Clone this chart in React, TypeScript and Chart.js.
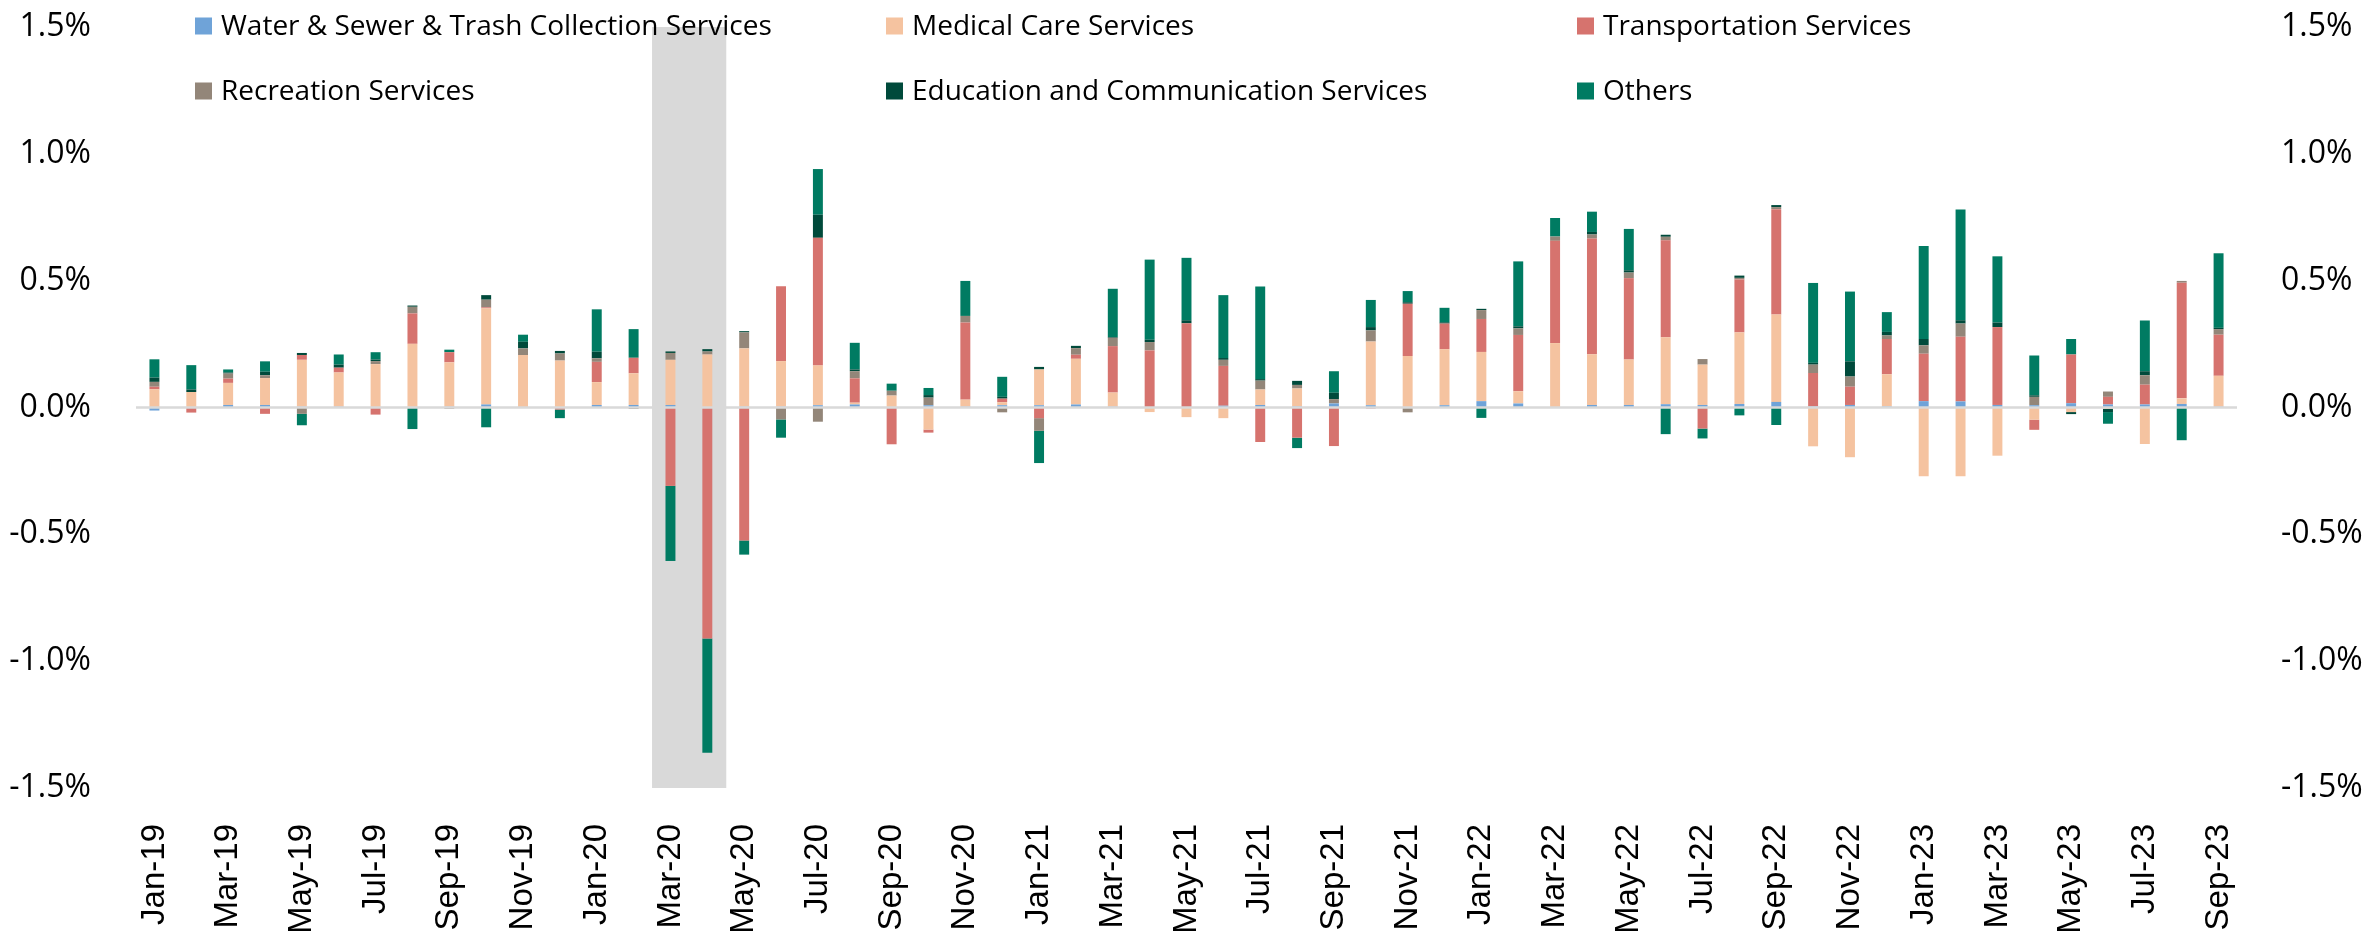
import React, { useEffect, useRef } from 'react';
import { Chart, registerables } from 'chart.js';

Chart.register(...registerables);

const months = [
  'Jan-19', 'Feb-19', 'Mar-19', 'Apr-19', 'May-19', 'Jun-19', 'Jul-19', 'Aug-19', 'Sep-19', 'Oct-19', 'Nov-19', 'Dec-19',
  'Jan-20', 'Feb-20', 'Mar-20', 'Apr-20', 'May-20', 'Jun-20', 'Jul-20', 'Aug-20', 'Sep-20', 'Oct-20', 'Nov-20', 'Dec-20',
  'Jan-21', 'Feb-21', 'Mar-21', 'Apr-21', 'May-21', 'Jun-21', 'Jul-21', 'Aug-21', 'Sep-21', 'Oct-21', 'Nov-21', 'Dec-21',
  'Jan-22', 'Feb-22', 'Mar-22', 'Apr-22', 'May-22', 'Jun-22', 'Jul-22', 'Aug-22', 'Sep-22', 'Oct-22', 'Nov-22', 'Dec-22',
  'Jan-23', 'Feb-23', 'Mar-23', 'Apr-23', 'May-23', 'Jun-23', 'Jul-23', 'Aug-23', 'Sep-23',
];

const recessionMonths = ['Mar-20', 'Apr-20'];

const water = [
  -0.012, 0.002, 0.010, 0.010, 0.003, 0.003, 0.002, 0.000, 0.003, 0.012, 0.000, 0.000,
  0.010, 0.010, 0.010, 0.000, 0.003, 0.003, 0.009, 0.012, 0.000, 0.009, 0.003, 0.009,
  0.009, 0.012, 0.003, 0.000, 0.000, 0.007, 0.010, 0.004, 0.016, 0.009, 0.000, 0.009,
  0.025, 0.016, 0.000, 0.010, 0.010, 0.013, 0.010, 0.014, 0.022, 0.004, 0.010, 0.004,
  0.025, 0.024, 0.010, 0.009, 0.017, 0.012, 0.012, 0.014, 0.003,
];

const medical = [
  0.072, 0.059, 0.087, 0.106, 0.185, 0.135, 0.169, 0.251, 0.175, 0.379, 0.207, 0.185,
  0.090, 0.125, 0.178, 0.209, 0.230, 0.180, 0.157, 0.007, 0.047, -0.087, 0.028, 0.012,
  0.141, 0.180, 0.056, -0.018, -0.038, -0.042, 0.061, 0.071, 0.000, 0.251, 0.203, 0.221,
  0.194, 0.048, 0.254, 0.200, 0.179, 0.264, 0.159, 0.282, 0.345, -0.153, -0.196, 0.127,
  -0.271, -0.271, -0.190, -0.048, -0.018, -0.005, -0.144, 0.022, 0.122,
];

const transportation = [
  0.010, -0.020, 0.017, -0.025, 0.019, 0.019, -0.028, 0.120, 0.040, 0.004, 0.000, -0.008,
  0.080, 0.061, -0.309, -0.911, -0.524, 0.295, 0.503, 0.096, -0.145, -0.012, 0.304, 0.014,
  -0.042, 0.016, 0.183, 0.225, 0.332, 0.157, -0.136, -0.119, -0.152, -0.004, 0.206, 0.101,
  0.130, 0.222, 0.403, 0.456, 0.321, 0.382, -0.083, 0.209, 0.415, 0.132, 0.072, 0.139,
  0.187, 0.255, 0.307, -0.040, 0.192, 0.030, 0.078, 0.456, 0.162,
];

const recreation = [
  0.019, 0.000, 0.020, 0.011, -0.025, 0.000, 0.012, 0.026, -0.005, 0.030, 0.026, 0.028,
  0.014, -0.006, 0.027, 0.012, 0.063, -0.047, -0.056, 0.028, 0.019, 0.030, 0.026, -0.019,
  -0.050, 0.026, 0.033, 0.033, 0.000, 0.024, 0.035, 0.014, 0.017, 0.044, -0.019, 0.000,
  0.035, 0.026, 0.017, 0.016, 0.022, 0.014, 0.022, 0.006, 0.008, 0.033, 0.040, 0.014,
  0.033, 0.052, 0.000, 0.033, 0.000, 0.021, 0.037, 0.007, 0.022,
];

const education = [
  0.017, 0.010, 0.004, 0.014, 0.008, 0.012, 0.006, 0.005, 0.000, 0.018, 0.026, 0.010,
  0.026, 0.000, 0.006, 0.009, 0.005, 0.000, 0.091, 0.007, 0.000, 0.010, 0.000, 0.007,
  0.010, 0.009, 0.003, 0.009, 0.012, 0.007, 0.006, 0.016, 0.025, 0.013, 0.006, 0.005,
  0.005, 0.008, 0.000, 0.010, 0.009, 0.008, 0.000, 0.009, 0.008, 0.007, 0.060, 0.014,
  0.025, 0.013, 0.018, 0.006, -0.008, -0.013, 0.016, 0.000, 0.005,
];

const others = [
  0.072, 0.096, 0.012, 0.041, -0.045, 0.040, 0.029, -0.085, 0.010, -0.078, 0.028, -0.034,
  0.167, 0.113, -0.296, -0.450, -0.056, -0.072, 0.180, 0.105, 0.028, 0.028, 0.138, 0.079,
  -0.127, 0.000, 0.190, 0.316, 0.246, 0.248, 0.365, -0.041, 0.085, 0.107, 0.044, 0.057,
  -0.041, 0.256, 0.073, 0.080, 0.163, -0.105, -0.039, -0.031, -0.069, 0.315, 0.275, 0.078,
  0.367, 0.437, 0.261, 0.157, 0.061, -0.046, 0.200, -0.129, 0.294,
];

const seriesNames = [
  'Water & Sewer & Trash Collection Services',
  'Medical Care Services',
  'Transportation Services',
  'Recreation Services',
  'Education and Communication Services',
  'Others',
];

const seriesColors = ['#6FA3D8', '#F5C3A0', '#D6736E', '#938679', '#004A3B', '#007B62'];

const yTicks = [-1.5, -1.0, -0.5, 0.0, 0.5, 1.0, 1.5];

const recessionPlugin = {
  id: 'recessionShade',
  beforeDatasetsDraw(chart: any) {
    const x = chart.scales.x;
    const { top, bottom } = chart.chartArea;
    const half = (x.getPixelForValue(1) - x.getPixelForValue(0)) / 2;
    const ctx = chart.ctx;
    ctx.save();
    ctx.fillStyle = '#D9D9D9';
    months.forEach((m, i) => {
      if (recessionMonths.includes(m)) {
        const c = x.getPixelForValue(i);
        ctx.fillRect(c - half, top, half * 2 + 0.5, bottom - top);
      }
    });
    ctx.restore();
  },
};

const zeroLinePlugin = {
  id: 'zeroLine',
  afterDatasetsDraw(chart: any) {
    const y = chart.scales.y.getPixelForValue(0);
    const { left, right } = chart.chartArea;
    const ctx = chart.ctx;
    ctx.save();
    ctx.strokeStyle = '#D9D9D9';
    ctx.lineWidth = 2.5;
    ctx.beginPath();
    ctx.moveTo(left, y);
    ctx.lineTo(right, y);
    ctx.stroke();
    ctx.restore();
  },
};

const legendCols = [195, 886, 1577];
const legendRows = [26, 91];

const legendPlugin = {
  id: 'gridLegend',
  afterDraw(chart: any) {
    const ctx = chart.ctx;
    ctx.save();
    ctx.font = "28px 'Open Sans'";
    ctx.textBaseline = 'middle';
    ctx.textAlign = 'left';
    seriesNames.forEach((name, i) => {
      const col = i % 3;
      const row = Math.floor(i / 3);
      const bx = legendCols[col];
      const by = legendRows[row];
      ctx.fillStyle = seriesColors[i];
      ctx.fillRect(bx, by - 8.5, 17, 17);
      ctx.fillStyle = '#000';
      ctx.fillText(name, bx + 26, by + 1);
    });
    ctx.restore();
  },
};

const noVerticalPadding = (s: any) => {
  s.paddingTop = 0;
  s.paddingBottom = 0;
};

export default function App() {
  const ref = useRef<HTMLCanvasElement>(null);

  useEffect(() => {
    document.body.style.margin = '0';
    const seriesData = [water, medical, transportation, recreation, education, others];
    const chart = new Chart(ref.current as HTMLCanvasElement, {
      type: 'bar',
      data: {
        labels: months,
        datasets: seriesNames.map((name, i) => ({
          label: name,
          data: seriesData[i],
          backgroundColor: seriesColors[i],
          borderWidth: 0,
          barPercentage: 0.27,
          categoryPercentage: 1,
        })),
      },
      options: {
        animation: false,
        responsive: true,
        maintainAspectRatio: false,
        devicePixelRatio: 1,
        layout: { padding: { top: 27, left: 0, right: 0, bottom: 0 } },
        plugins: {
          legend: { display: false },
          tooltip: { enabled: false },
        },
        scales: {
          x: {
            stacked: true,
            offset: true,
            grid: { display: false },
            border: { display: false },
            ticks: {
              autoSkip: false,
              minRotation: 90,
              maxRotation: 90,
              padding: 28,
              color: '#000',
              font: { family: "'Liberation Sans', Arial, sans-serif", size: 33 },
              callback: (_v: any, i: number) => (i % 2 === 0 ? months[i] : ''),
            },
            afterFit: (s: any) => {
              s.height = 143;
              s.paddingLeft = 0;
              s.paddingRight = 0;
            },
          },
          y: {
            stacked: true,
            position: 'left',
            min: -1.5,
            max: 1.5,
            grid: { display: false },
            border: { display: false },
            afterBuildTicks: (s: any) => {
              s.ticks = yTicks.map((v) => ({ value: v }));
            },
            ticks: {
              padding: 37,
              color: '#000',
              font: { family: "'Open Sans'", size: 32 },
              callback: (v: any) => Number(v).toFixed(1) + '%',
            },
            afterFit: (s: any) => {
              s.width = 136;
              noVerticalPadding(s);
            },
          },
          y2: {
            position: 'right',
            min: -1.5,
            max: 1.5,
            grid: { display: false },
            border: { display: false },
            afterBuildTicks: (s: any) => {
              s.ticks = yTicks.map((v) => ({ value: v }));
            },
            ticks: {
              padding: 36,
              color: '#000',
              font: { family: "'Open Sans'", size: 32 },
              callback: (v: any) => Number(v).toFixed(1) + '%',
            },
            afterFit: (s: any) => {
              s.width = 129;
              noVerticalPadding(s);
            },
          },
        },
      },
      plugins: [recessionPlugin, zeroLinePlugin, legendPlugin],
    });
    return () => chart.destroy();
  }, []);

  return (
    <div style={{ width: 2366, height: 931, position: 'relative' }}>
      <canvas ref={ref} />
    </div>
  );
}
